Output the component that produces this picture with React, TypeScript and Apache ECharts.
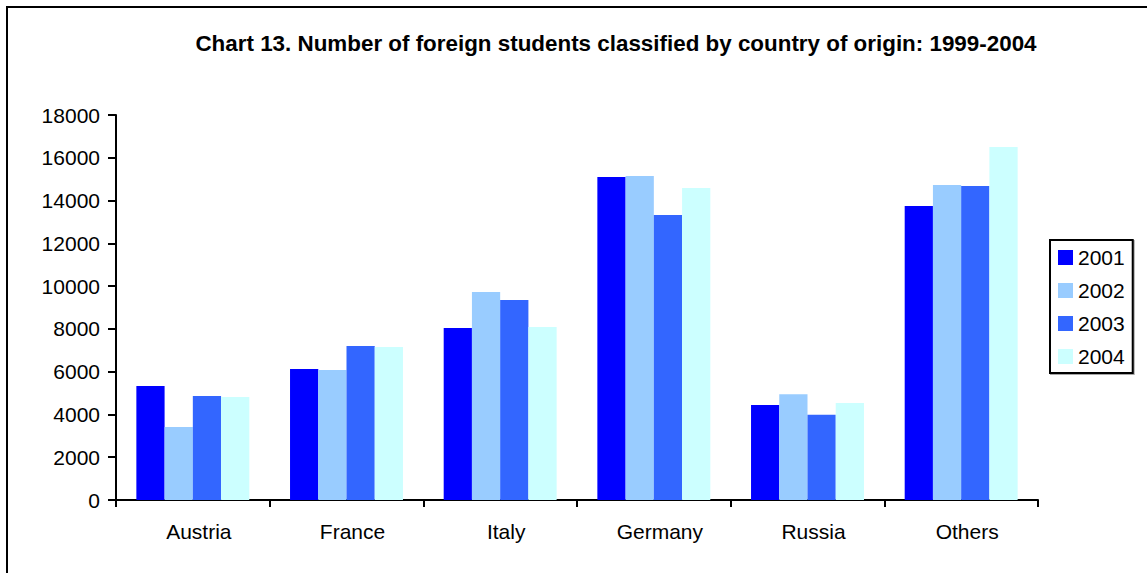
import React, { useEffect, useRef } from "react";
import * as echarts from "echarts";

const categories = ["Austria", "France", "Italy", "Germany", "Russia", "Others"];
const seriesNames = ["2001", "2002", "2003", "2004"];
const values2001 = [5330, 6120, 8040, 15100, 4440, 13750];
const values2002 = [3410, 6080, 9720, 15150, 4950, 14730];
const values2003 = [4860, 7200, 9350, 13330, 3990, 14680];
const values2004 = [4820, 7150, 8090, 14590, 4530, 16500];
const colors = ["#0000FF", "#99CCFF", "#3366FF", "#CCFFFF"];
const yTicks = { min: 0, max: 18000, interval: 2000 };
const titleText = "Chart 13. Number of foreign students classified by country of origin: 1999-2004";

export default function App() {
  const ref = useRef<HTMLDivElement>(null);
  useEffect(() => {
    if (!ref.current) return;
    const chart = echarts.init(ref.current, null, { renderer: "svg" });
    const allValues = [values2001, values2002, values2003, values2004];
    const font = "Arial, 'Liberation Sans', sans-serif";
    chart.setOption({
      animation: false,
      backgroundColor: "#ffffff",
      textStyle: { fontFamily: font, color: "#000" },
      title: {
        text: titleText,
        left: 611,
        top: 27,
        textAlign: "center",
        textStyle: { fontFamily: font, fontWeight: "bold", fontSize: 22.4, color: "#000" },
      },
      graphic: [
        {
          type: "rect",
          shape: { x: 7, y: 7, width: 1200, height: 620 },
          style: { fill: "none", stroke: "#000", lineWidth: 2 },
          silent: true,
          z: 100,
        },
      ],
      legend: {
        orient: "vertical",
        left: 1050,
        top: 240,
        padding: [7, 8, 6, 8],
        itemGap: 12,
        itemWidth: 15,
        itemHeight: 15,
        icon: "rect",
        borderColor: "#000",
        borderWidth: 2,
        shadowColor: "rgba(0,0,0,0.35)",
        shadowOffsetX: 1,
        shadowOffsetY: 1,
        shadowBlur: 0,
        backgroundColor: "#fff",
        textStyle: { fontFamily: font, fontSize: 21, color: "#000" },
        data: seriesNames,
      },
      grid: { left: 116, right: 109, top: 115, bottom: 73, containLabel: false },
      xAxis: {
        type: "category",
        data: categories,
        boundaryGap: true,
        axisLine: { lineStyle: { color: "#000", width: 2 } },
        axisTick: { show: true, length: 7, inside: false, lineStyle: { color: "#000", width: 2 } },
        axisLabel: {
          fontFamily: font,
          fontSize: 21,
          color: "#000",
          margin: 21,
          padding: [0, 0, 0, 12],
        },
      },
      yAxis: {
        type: "value",
        min: yTicks.min,
        max: yTicks.max,
        interval: yTicks.interval,
        splitLine: { show: false },
        axisLine: { show: true, lineStyle: { color: "#000", width: 2 } },
        axisTick: { show: true, length: 8, lineStyle: { color: "#000", width: 2 } },
        axisLabel: {
          fontFamily: font,
          fontSize: 21,
          color: "#000",
          margin: 16,
          formatter: (v: number) => String(v),
        },
      },
      series: seriesNames.map((name, i) => ({
        name,
        type: "bar",
        data: allValues[i],
        barGap: "0%",
        barCategoryGap: "26.5%",
        itemStyle: { color: colors[i] },
      })),
    });
    return () => chart.dispose();
  }, []);
  return (
    <div
      ref={ref}
      style={{ position: "fixed", left: 0, top: 0, width: 1147, height: 573 }}
    />
  );
}
